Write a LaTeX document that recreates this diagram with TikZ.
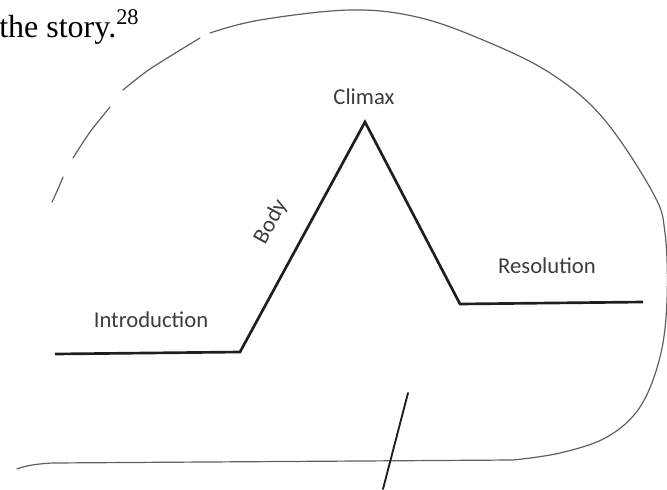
\documentclass[tikz,border=0pt]{standalone}
\usepackage{fontspec}
\setmainfont{Liberation Serif}
\newfontfamily\labelfont{Carlito}
\usepackage{tikz}
\usetikzlibrary{positioning}
\usepackage{xcolor}
\definecolor{penline}{RGB}{95,95,95}
\definecolor{inkline}{RGB}{30,30,30}
\definecolor{labelgray}{RGB}{60,60,60}

\begin{document}
\begin{tikzpicture}[x=0.75pt, y=-0.75pt,
    plotline/.style={draw=inkline, line width=2pt, line join=miter},
    sketch/.style={draw=penline, line width=0.9pt, line cap=round},
    stagelabel/.style={text=labelgray, inner sep=1pt,
      font=\labelfont\fontsize{17}{20}\selectfont}]
  \useasboundingbox (0,0) rectangle (667,489);

  % Sentence ending above the figure
  \node[anchor=base west, inner sep=0pt, font=\fontsize{24}{28}\selectfont]
    (story) at (-1,37) {the story.\textsuperscript{28}};

  % Corners of the plot line
  \coordinate (start)  at (55,354);
  \coordinate (rise)   at (240,352);
  \coordinate (peak)   at (365,122);
  \coordinate (fall)   at (460,304);
  \coordinate (finish) at (643,302);

  \draw[plotline] (start) -- (rise) -- (peak) -- (fall) -- (finish);

  \node[stagelabel] (intro)  at (151,320) {Introduction};
  \node[stagelabel, rotate=61.5] (body) at (271,222) {Body};
  \node[stagelabel] (climax) at (364,97)  {Climax};
  \node[stagelabel] (resol)  at (547,266) {Resolution};

  % Hand-drawn outline round the plot
  \draw[sketch] plot[smooth] coordinates {(52,202) (58,189) (63,177)};
  \draw[sketch] plot[smooth] coordinates {(73,158) (90,132) (110,107)};
  \draw[sketch] plot[smooth] coordinates {(123,90) (150,69) (200,38)};
  \draw[sketch] plot[smooth, tension=0.6] coordinates {
      (210,33) (260,20) (350,10) (417,17) (483,40) (550,73)
      (603,118) (653,193) (665,233) (667,300) (660,357)
      (640,407) (607,437) (560,453) (513,460)}
    -- (52,463) .. controls (35,464) and (24,466) .. (17,469);

  % Stroke crossing the bottom of the outline
  \coordinate (tickA) at (408,393);
  \coordinate (tickB) at (383,489);
  \draw[draw=inkline, line width=1.4pt, line cap=round] (tickA) -- (tickB);

\end{tikzpicture}
\end{document}
